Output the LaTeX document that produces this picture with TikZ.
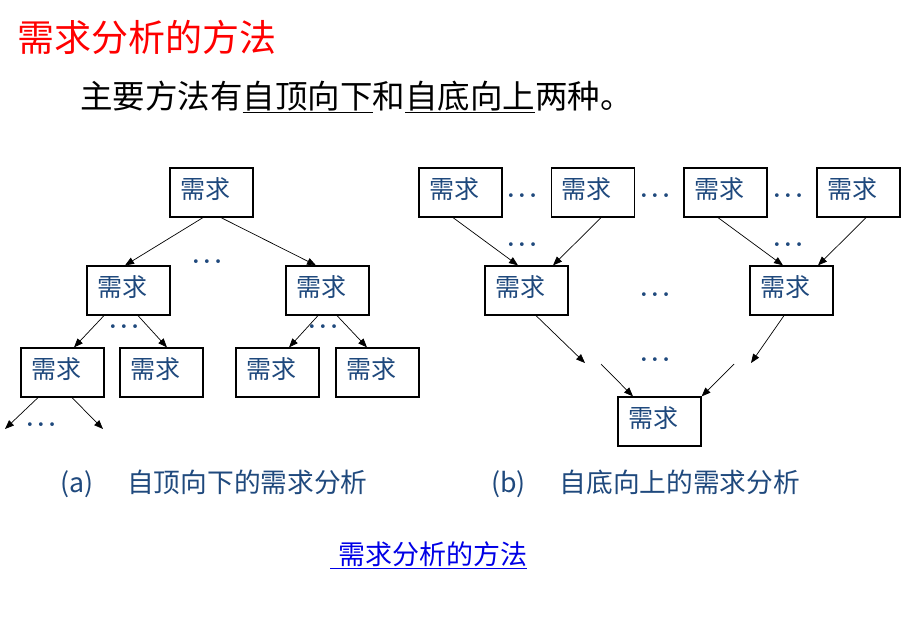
\documentclass[tikz,border=0pt]{standalone}
\usepackage{fontspec}
\newfontfamily\cjk{Noto Sans CJK SC}
\usetikzlibrary{calc,arrows.meta}
\definecolor{boxtext}{RGB}{31,73,125}
\definecolor{linkblue}{RGB}{0,0,230}
\newcommand\mydots{.\kern3pt.\kern3pt.}
\tikzset{
  req/.style={draw=black, line width=1.2pt, minimum width=83pt, minimum height=49pt,
    text width=63pt, align=left, inner xsep=10pt, inner ysep=0pt,
    text height=20pt, text depth=9pt, font=\cjk\fontsize{25}{25}\selectfont, text=boxtext},
  arr/.style={line width=0.7pt, -{Triangle[length=9pt,width=7pt]}},
  dts/.style={anchor=base, inner sep=0pt, font=\bfseries\fontsize{26}{26}\selectfont, text=boxtext},
  captext/.style={anchor=west, inner sep=0pt, font=\cjk\fontsize{26.7}{27}\selectfont, text=boxtext}
}
\begin{document}
\begin{tikzpicture}[x=1pt,y=-1pt]
\fill[white] (0,0) rectangle (923,624);
\useasboundingbox (0,0) rectangle (923,624);
% titles
\node[anchor=west, inner sep=0pt, text=red, font=\cjk\fontsize{37}{37}\selectfont] (title) at (17,37) {需求分析的方法};
\node[anchor=west, inner sep=0pt, font=\cjk\fontsize{32.5}{33}\selectfont] (sub) at (80,97)
  {主要方法有\underline{自顶向下}和\underline{自底向上}两种。};
% (a) tree
\node[req] (t) at (211.5,192.5) {需求};
\node[req] (l2a) at (128.5,290.5) {需求};
\node[req] (l2b) at (327.5,290.5) {需求};
\node[req] (l3a) at (62.5,372.5) {需求};
\node[req] (l3b) at (161.5,372.5) {需求};
\node[req] (l3c) at (277.5,372.5) {需求};
\node[req] (l3d) at (377.5,372.5) {需求};
\coordinate (e1) at (5,429);
\coordinate (e2) at (103,429);
\draw[arr] ($(t.south)+(-8.5,0)$) -- ($(l2a.north)+(-3.5,0)$);
\draw[arr] ($(t.south)+(9.5,0)$) -- ($(l2b.north)+(-11.5,0)$);
\draw[arr] ($(l2a.south)+(-24.5,0)$) -- ($(l3a.north)+(11.5,0)$);
\draw[arr] ($(l2a.south)+(9.5,0)$) -- ($(l3b.north)+(5.5,0)$);
\draw[arr] ($(l2b.south)+(-9.5,0)$) -- ($(l3c.north)+(11.5,0)$);
\draw[arr] ($(l2b.south)+(9.5,0)$) -- ($(l3d.north)+(-10.5,0)$);
\draw[arr] ($(l3a.south)+(-24.5,0)$) -- (e1);
\draw[arr] ($(l3a.south)+(9.5,0)$) -- (e2);
\node[dts] (da1) at (207,263) {\mydots};
\node[dts] (da2) at (124,328) {\mydots};
\node[dts] (da3) at (323,328) {\mydots};
\node[dts] (da4) at (41,426) {\mydots};
% (b) tree
\node[req] (b1) at (460.5,192.5) {需求};
\node[req] (b2) at (593,192.5) {需求};
\node[req] (b3) at (725.5,192.5) {需求};
\node[req] (b4) at (858.5,192.5) {需求};
\node[req] (m1) at (526.5,290.5) {需求};
\node[req] (m2) at (791.5,290.5) {需求};
\node[req] (bt) at (659.5,421.5) {需求};
\coordinate (f1) at (585,363);
\coordinate (g1) at (601,364);
\coordinate (f2) at (751,363);
\coordinate (g2) at (734,364);
\draw[arr] ($(b1.south)+(-7.5,0)$) -- ($(m1.north)+(-8.5,0)$);
\draw[arr] ($(b2.south)+(8,0)$) -- ($(m1.north)+(26.5,0)$);
\draw[arr] ($(b3.south)+(-7.5,0)$) -- ($(m2.north)+(-8.5,0)$);
\draw[arr] ($(b4.south)+(7.5,0)$) -- ($(m2.north)+(26.5,0)$);
\draw[arr] ($(m1.south)+(9.5,0)$) -- (f1);
\draw[arr] (g1) -- ($(bt.north)+(-26.5,0)$);
\draw[arr] ($(m2.south)+(-7.5,0)$) -- (f2);
\draw[arr] (g2) -- (bt.north east);
\node[dts] (db1) at (522,197) {\mydots};
\node[dts] (db2) at (655,197) {\mydots};
\node[dts] (db3) at (788,197) {\mydots};
\node[dts] (db4) at (522,246) {\mydots};
\node[dts] (db5) at (788,246) {\mydots};
\node[dts] (db6) at (655,296) {\mydots};
\node[dts] (db7) at (655,361) {\mydots};
% captions
\node[captext] (capa) at (60,484) {(a)\hspace{34pt}自顶向下的需求分析};
\node[captext] (capb) at (491,484) {(b)\hspace{34pt}自底向上的需求分析};
\node[anchor=west, inner sep=0pt, text=linkblue, font=\cjk\fontsize{27}{27}\selectfont] (link) at (330,555)
  {\underline{\hspace{8pt}需求分析的方法}};
\end{tikzpicture}
\end{document}
